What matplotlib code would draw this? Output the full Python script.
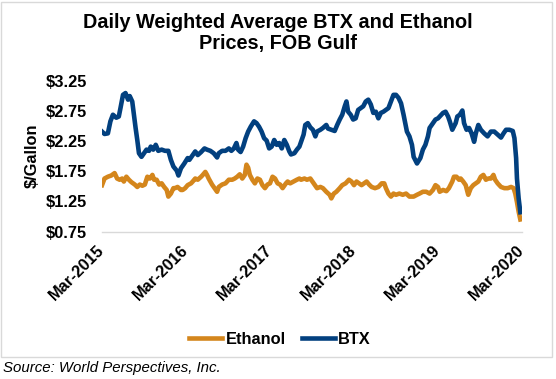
import matplotlib
matplotlib.use("Agg")
import matplotlib.pyplot as plt
from matplotlib.patches import Rectangle

plt.rcParams['font.family'] = ['Liberation Sans', 'DejaVu Sans']

# time in decimal years
eth_t = [2015.17, 2015.20, 2015.24, 2015.28, 2015.32, 2015.35, 2015.38, 2015.41, 2015.43, 2015.46,
         2015.49, 2015.52, 2015.56, 2015.59, 2015.62, 2015.65, 2015.68, 2015.71, 2015.74, 2015.77,
         2015.79, 2015.82, 2015.85, 2015.88, 2015.91, 2015.94, 2015.96, 2015.99, 2016.02, 2016.04,
         2016.07, 2016.11, 2016.13, 2016.16, 2016.19, 2016.23, 2016.25, 2016.28, 2016.31, 2016.35,
         2016.37, 2016.40, 2016.42, 2016.44, 2016.48, 2016.51, 2016.54, 2016.56, 2016.60, 2016.64,
         2016.68, 2016.72, 2016.75, 2016.78, 2016.81, 2016.84, 2016.87, 2016.89, 2016.91, 2016.93,
         2016.96, 2016.99, 2017.02, 2017.05, 2017.08, 2017.11, 2017.14, 2017.17, 2017.20, 2017.23,
         2017.26, 2017.29, 2017.32, 2017.36, 2017.38, 2017.41, 2017.45, 2017.49, 2017.52, 2017.54,
         2017.58, 2017.61, 2017.65, 2017.69, 2017.73, 2017.77, 2017.80, 2017.84, 2017.88, 2017.90,
         2017.93, 2017.96, 2018.00, 2018.03, 2018.07, 2018.11, 2018.14, 2018.17, 2018.20, 2018.23,
         2018.26, 2018.29, 2018.32, 2018.35, 2018.38, 2018.42, 2018.46, 2018.50, 2018.53, 2018.55,
         2018.58, 2018.61, 2018.64, 2018.67, 2018.71, 2018.75, 2018.79, 2018.83, 2018.88, 2018.92,
         2018.95, 2018.99, 2019.03, 2019.07, 2019.11, 2019.14, 2019.17, 2019.19, 2019.23, 2019.27,
         2019.30, 2019.34, 2019.36, 2019.39, 2019.42, 2019.44, 2019.47, 2019.50, 2019.53, 2019.56,
         2019.59, 2019.62, 2019.65, 2019.68, 2019.71, 2019.74, 2019.77, 2019.80, 2019.83, 2019.85,
         2019.88, 2019.92, 2019.96, 2020.00, 2020.04, 2020.07, 2020.09, 2020.11, 2020.13, 2020.15]
eth_v = [1.52, 1.63, 1.66, 1.68, 1.72, 1.63, 1.61, 1.63, 1.58, 1.66,
         1.61, 1.57, 1.53, 1.49, 1.53, 1.51, 1.53, 1.66, 1.63, 1.69,
         1.61, 1.61, 1.53, 1.55, 1.49, 1.44, 1.33, 1.38, 1.47, 1.47,
         1.49, 1.44, 1.44, 1.47, 1.52, 1.55, 1.58, 1.63, 1.61, 1.66,
         1.69, 1.74, 1.69, 1.63, 1.53, 1.47, 1.41, 1.49, 1.53, 1.55,
         1.61, 1.61, 1.63, 1.66, 1.70, 1.63, 1.69, 1.86, 1.81, 1.69,
         1.61, 1.55, 1.63, 1.61, 1.52, 1.47, 1.53, 1.55, 1.66, 1.63,
         1.55, 1.53, 1.47, 1.55, 1.58, 1.55, 1.58, 1.61, 1.63, 1.61,
         1.63, 1.61, 1.63, 1.55, 1.47, 1.49, 1.47, 1.41, 1.36, 1.30,
         1.38, 1.41, 1.47, 1.52, 1.55, 1.61, 1.58, 1.52, 1.58, 1.55,
         1.52, 1.55, 1.58, 1.53, 1.49, 1.47, 1.49, 1.55, 1.55, 1.47,
         1.38, 1.33, 1.38, 1.36, 1.38, 1.36, 1.38, 1.33, 1.33, 1.36,
         1.38, 1.41, 1.41, 1.38, 1.44, 1.52, 1.49, 1.41, 1.44, 1.42,
         1.47, 1.58, 1.66, 1.66, 1.61, 1.63, 1.58, 1.52, 1.36, 1.47,
         1.52, 1.55, 1.58, 1.66, 1.69, 1.61, 1.63, 1.63, 1.69, 1.61,
         1.55, 1.49, 1.47, 1.47, 1.49, 1.47, 1.38, 1.24, 1.08, 0.95]

btx_t = [2015.17, 2015.20, 2015.24, 2015.27, 2015.30, 2015.34, 2015.37, 2015.39, 2015.42, 2015.45,
         2015.48, 2015.50, 2015.53, 2015.55, 2015.57, 2015.59, 2015.61, 2015.64, 2015.67, 2015.70,
         2015.73, 2015.75, 2015.78, 2015.81, 2015.84, 2015.88, 2015.92, 2015.96, 2015.99, 2016.02,
         2016.06, 2016.08, 2016.11, 2016.15, 2016.19, 2016.21, 2016.25, 2016.28, 2016.31, 2016.35,
         2016.39, 2016.42, 2016.46, 2016.50, 2016.54, 2016.56, 2016.60, 2016.64, 2016.68, 2016.71,
         2016.74, 2016.77, 2016.79, 2016.82, 2016.85, 2016.88, 2016.91, 2016.94, 2016.98, 2017.01,
         2017.04, 2017.07, 2017.10, 2017.13, 2017.16, 2017.19, 2017.22, 2017.25, 2017.28, 2017.31,
         2017.34, 2017.37, 2017.40, 2017.42, 2017.46, 2017.49, 2017.52, 2017.54, 2017.57, 2017.59,
         2017.62, 2017.65, 2017.68, 2017.71, 2017.73, 2017.77, 2017.80, 2017.84, 2017.86, 2017.90,
         2017.94, 2017.97, 2018.00, 2018.03, 2018.06, 2018.08, 2018.10, 2018.13, 2018.16, 2018.19,
         2018.22, 2018.25, 2018.28, 2018.31, 2018.34, 2018.37, 2018.40, 2018.43, 2018.46, 2018.49,
         2018.52, 2018.55, 2018.58, 2018.61, 2018.64, 2018.67, 2018.70, 2018.73, 2018.76, 2018.80,
         2018.83, 2018.86, 2018.88, 2018.92, 2018.96, 2018.99, 2019.02, 2019.05, 2019.07, 2019.11,
         2019.14, 2019.17, 2019.19, 2019.23, 2019.26, 2019.29, 2019.31, 2019.34, 2019.38, 2019.40,
         2019.43, 2019.46, 2019.48, 2019.51, 2019.54, 2019.57, 2019.60, 2019.62, 2019.65, 2019.68,
         2019.72, 2019.76, 2019.80, 2019.84, 2019.88, 2019.92, 2019.95, 2019.98, 2020.02, 2020.06,
         2020.08, 2020.10, 2020.11, 2020.13, 2020.15]
btx_v = [2.41, 2.37, 2.38, 2.58, 2.69, 2.64, 2.66, 2.80, 3.02, 3.05,
         2.94, 3.00, 2.91, 2.69, 2.47, 2.27, 2.05, 1.99, 2.05, 2.11,
         2.09, 2.16, 2.11, 2.19, 2.09, 2.11, 2.09, 2.09, 1.94, 1.83,
         1.76, 1.68, 1.80, 1.88, 1.97, 1.94, 2.02, 2.08, 2.02, 2.07,
         2.13, 2.11, 2.09, 2.05, 1.98, 2.05, 2.09, 2.09, 2.13, 2.09,
         2.13, 2.22, 2.11, 2.07, 2.16, 2.30, 2.41, 2.49, 2.58, 2.55,
         2.49, 2.41, 2.30, 2.26, 2.13, 2.16, 2.27, 2.19, 2.22, 2.13,
         2.27, 2.19, 2.08, 2.03, 2.05, 2.11, 2.16, 2.24, 2.36, 2.52,
         2.55, 2.48, 2.44, 2.33, 2.41, 2.44, 2.47, 2.52, 2.46, 2.44,
         2.42, 2.52, 2.61, 2.69, 2.83, 2.91, 2.74, 2.69, 2.61, 2.63,
         2.77, 2.80, 2.83, 2.91, 2.94, 2.86, 2.72, 2.74, 2.63, 2.72,
         2.74, 2.77, 2.80, 2.91, 3.02, 3.02, 2.97, 2.88, 2.69, 2.41,
         2.33, 2.19, 1.99, 1.88, 1.97, 2.11, 2.19, 2.33, 2.47, 2.55,
         2.61, 2.63, 2.66, 2.72, 2.74, 2.66, 2.58, 2.44, 2.55, 2.66,
         2.69, 2.76, 2.55, 2.44, 2.47, 2.38, 2.24, 2.38, 2.52, 2.44,
         2.38, 2.33, 2.41, 2.41, 2.36, 2.31, 2.38, 2.44, 2.44, 2.42,
         2.30, 1.97, 1.63, 1.30, 1.07]

tick_pos = [2015.17, 2016.17, 2017.17, 2018.17, 2019.17, 2020.17]
tick_labels = ['Mar-2015', 'Mar-2016', 'Mar-2017', 'Mar-2018', 'Mar-2019', 'Mar-2020']
y_ticks = [0.75, 1.25, 1.75, 2.25, 2.75, 3.25]

eth_color = '#D4861C'
btx_color = '#02407F'

fig = plt.figure(figsize=(5.56, 3.79), dpi=100)
ax = fig.add_axes([102/556, 1-231.5/379, 420/556, 150.5/379])

ax.plot(eth_t, eth_v, color=eth_color, lw=3.3, label='Ethanol', solid_joinstyle='round')
ax.plot(btx_t, btx_v, color=btx_color, lw=3.3, label='BTX', solid_joinstyle='round')

ax.set_xlim(tick_pos[0], tick_pos[-1])
ax.set_ylim(0.75, 3.25)
ax.set_yticks(y_ticks)
ax.set_yticklabels(['\\$%.2f' % v for v in y_ticks], fontsize=11.8, fontweight='bold')
ax.set_xticks(tick_pos)
ax.set_xticklabels(tick_labels, fontsize=11.8, fontweight='bold', rotation=45,
                   ha='right', va='center', rotation_mode='anchor')
ax.tick_params(axis='y', length=0, pad=11)
ax.tick_params(axis='x', length=0, pad=12)

for s in ['top', 'right', 'left']:
    ax.spines[s].set_visible(False)
ax.spines['bottom'].set_color('#d9d9d9')
ax.spines['bottom'].set_linewidth(1)

fig.text(32/556, 1-156/379, '\\$/Gallon', rotation=90, ha='center', va='center',
         fontsize=11.8, fontweight='bold')

fig.text(0.5, 1-33/379, 'Daily Weighted Average BTX and Ethanol\nPrices, FOB Gulf',
         ha='center', va='center', fontsize=14.3, fontweight='bold', linespacing=1.15)

leg = fig.legend(loc='center', bbox_to_anchor=(280/556, 1-339/379), ncol=2, frameon=False,
                 prop={'size': 11.8, 'weight': 'bold'}, handlelength=2.0,
                 handletextpad=0.2, columnspacing=1.0)

fig.patches.append(Rectangle((1/556, 1-357/379), 551/556, 355/379, transform=fig.transFigure,
                             fill=False, edgecolor='#d9d9d9', lw=1))

fig.text(3/556, 1-368/379, 'Source: World Perspectives, Inc.', ha='left', va='center',
         fontsize=10.8, style='italic')

fig.savefig('out.png', dpi=100)
